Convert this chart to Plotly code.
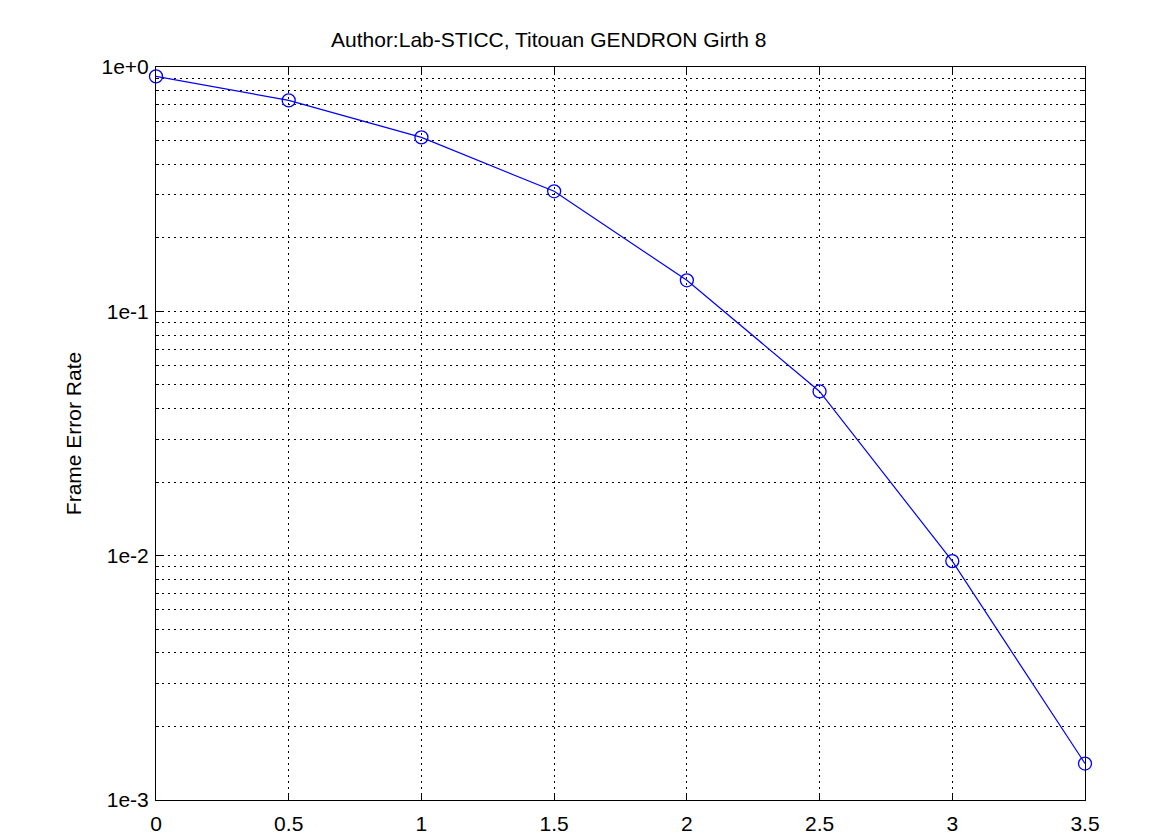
import plotly.graph_objects as go

snr = [0, 0.5, 1, 1.5, 2, 2.5, 3, 3.5]
fer = [0.915, 0.73, 0.515, 0.31, 0.134, 0.047, 0.0095, 0.00141]

x_ticks = [0, 0.5, 1, 1.5, 2, 2.5, 3, 3.5]
x_labels = ["0", "0.5", "1", "1.5", "2", "2.5", "3", "3.5"]
y_ticks = [1e-3, 1e-2, 1e-1, 1e0]
y_labels = ["1e-3", "1e-2", "1e-1", "1e+0"]
y_minor = [m * 10.0 ** e for e in (-3, -2, -1) for m in range(2, 10)]

FONT = "Liberation Sans, Arial, sans-serif"
GRID = dict(showgrid=True, gridcolor="#000000", gridwidth=1, griddash="2px,4px")

fig = go.Figure()
fig.add_trace(
    go.Scatter(
        x=snr,
        y=fer,
        mode="lines+markers",
        line=dict(color="#0000ff", width=1.2),
        marker=dict(symbol="circle-open", size=13, color="#0000ff", line=dict(width=1.3)),
        cliponaxis=False,
        showlegend=False,
    )
)

# page body has an 8px margin, so the plot box is shifted back by 8px here
fig.update_layout(
    width=1175,
    height=835,
    margin=dict(l=148, r=98, t=59, b=43),
    paper_bgcolor="white",
    plot_bgcolor="white",
    font=dict(family=FONT, size=21, color="#000000"),
    annotations=[
        dict(
            text="Author:Lab-STICC, Titouan GENDRON Girth 8",
            xref="paper",
            yref="paper",
            x=0.423,
            y=1.037,
            xanchor="center",
            yanchor="middle",
            showarrow=False,
            font=dict(size=21),
        )
    ],
)

fig.update_xaxes(
    range=[0, 3.5],
    tickvals=x_ticks,
    ticktext=x_labels,
    ticks="inside",
    ticklen=6,
    tickcolor="#000000",
    ticklabelstandoff=5,
    automargin=False,
    showline=True,
    linecolor="#000000",
    linewidth=1,
    mirror="allticks",
    zeroline=False,
    **GRID,
)

fig.update_yaxes(
    type="log",
    range=[-3, 0],
    tickvals=y_ticks,
    ticktext=y_labels,
    ticks="inside",
    ticklen=6,
    tickcolor="#000000",
    ticklabelstandoff=2,
    automargin=False,
    showline=True,
    linecolor="#000000",
    linewidth=1,
    mirror="allticks",
    zeroline=False,
    title=dict(text="Frame Error Rate", font=dict(size=21), standoff=14),
    minor=dict(
        tickvals=y_minor,
        ticks="inside",
        ticklen=3,
        tickcolor="#000000",
        showgrid=True,
        gridcolor="#000000",
        gridwidth=1,
        griddash="2px,4px",
    ),
    **GRID,
)

fig.write_html("out.html")
